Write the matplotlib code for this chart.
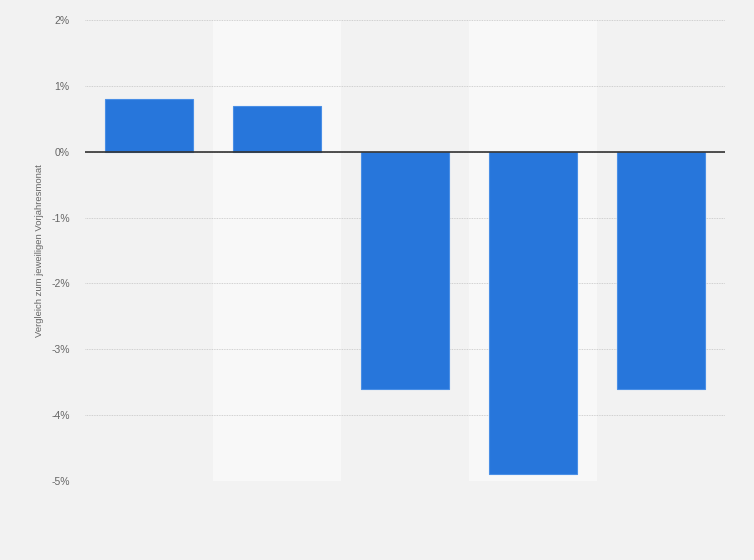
import matplotlib.pyplot as plt
import numpy as np

# monthly change vs. same month of the previous year, in percent
months = ["M1", "M2", "M3", "M4", "M5"]
changes = [0.8, 0.7, -3.6, -4.9, -3.6]
y_ticks = [2, 1, 0, -1, -2, -3, -4, -5]
y_labels = ["2%", "1%", "0%", "-1%", "-2%", "-3%", "-4%", "-5%"]


def main():
    plt.rcParams["font.family"] = ["Liberation Sans", "DejaVu Sans"]
    fig = plt.figure(figsize=(7.54, 5.6), dpi=100)
    fig.patch.set_facecolor("#f2f2f2")
    ax = fig.add_axes([85 / 754, 79 / 560, 640 / 754, 461 / 560])
    ax.set_facecolor("#f2f2f2")

    x = np.arange(len(months))
    # alternating background bands
    for i in x:
        if i % 2 == 1:
            ax.axvspan(i - 0.5, i + 0.5, color="#f8f8f8", zorder=0, lw=0)

    ax.bar(x, changes, width=0.69, color="#2776db", edgecolor="#4a8fe6",
           linewidth=0.8, zorder=3)
    ax.axhline(0, color="#333333", lw=1.2, zorder=4)

    ax.set_xlim(-0.5, len(months) - 0.5)
    ax.set_ylim(-5, 2)
    ax.set_yticks(y_ticks)
    ax.set_yticklabels(y_labels, color="#666666", fontsize=7.5)
    ax.set_xticks([])
    ax.tick_params(axis="y", length=0, pad=11)
    ax.grid(axis="y", color="#c4c4c4", linestyle=(0, (1, 1)), lw=0.6, zorder=1)
    for spine in ax.spines.values():
        spine.set_visible(False)

    ax.set_ylabel("Vergleich zum jeweiligen Vorjahresmonat", color="#666666",
                  fontsize=6.8, labelpad=5)

    fig.savefig("out.png", dpi=100, facecolor=fig.get_facecolor())


if __name__ == "__main__":
    main()
